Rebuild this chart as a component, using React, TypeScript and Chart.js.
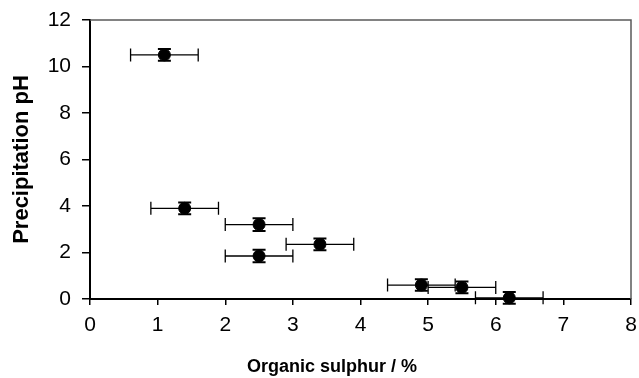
import React, { useEffect, useRef } from "react";
import { Chart, registerables } from "chart.js";

Chart.register(...registerables);

const organicSulphur = [1.1, 1.4, 2.5, 2.5, 3.4, 4.9, 5.5, 6.2];
const precipitationPH = [10.5, 3.9, 3.2, 1.85, 2.35, 0.6, 0.5, 0.05];
const sulphurError = [0.5, 0.5, 0.5, 0.5, 0.5, 0.5, 0.5, 0.5];
const phError = [0.25, 0.25, 0.27, 0.27, 0.25, 0.25, 0.25, 0.25];

const xTitle = "Organic sulphur / %";
const yTitle = "Precipitation pH";

const FONT = "'Liberation Sans', Arial, sans-serif";

const errorBarPlugin = {
  id: "errorBars",
  beforeDatasetsDraw(chart: any) {
    const ctx = chart.ctx;
    const xs = chart.scales.x;
    const ys = chart.scales.y;
    ctx.save();
    ctx.strokeStyle = "#000";
    const cap = 6.5;
    organicSulphur.forEach((xv, i) => {
      const yv = precipitationPH[i];
      const px = xs.getPixelForValue(xv);
      const py = ys.getPixelForValue(yv);
      const x0 = xs.getPixelForValue(xv - sulphurError[i]);
      const x1 = xs.getPixelForValue(xv + sulphurError[i]);
      const y0 = ys.getPixelForValue(yv - phError[i]);
      const y1 = ys.getPixelForValue(yv + phError[i]);
      ctx.lineWidth = 1.3;
      ctx.beginPath();
      ctx.moveTo(x0, py);
      ctx.lineTo(x1, py);
      ctx.moveTo(x0, py - cap);
      ctx.lineTo(x0, py + cap);
      ctx.moveTo(x1, py - cap);
      ctx.lineTo(x1, py + cap);
      ctx.stroke();
      ctx.lineWidth = 2;
      ctx.beginPath();
      ctx.moveTo(px, y0);
      ctx.lineTo(px, y1);
      ctx.moveTo(px - cap, y0);
      ctx.lineTo(px + cap, y0);
      ctx.moveTo(px - cap, y1);
      ctx.lineTo(px + cap, y1);
      ctx.stroke();
    });
    ctx.restore();
  },
};

const framePlugin = {
  id: "frame",
  beforeDatasetsDraw(chart: any) {
    const { ctx, chartArea } = chart;
    ctx.save();
    ctx.strokeStyle = "#5a5a5a";
    ctx.lineWidth = 1.5;
    ctx.beginPath();
    ctx.moveTo(chartArea.left, chartArea.top);
    ctx.lineTo(chartArea.right, chartArea.top);
    ctx.lineTo(chartArea.right, chartArea.bottom);
    ctx.stroke();
    ctx.restore();
  },
};

const xTitlePlugin = {
  id: "xTitle",
  afterDraw(chart: any) {
    const ctx = chart.ctx;
    ctx.save();
    ctx.fillStyle = "#000";
    ctx.font = `bold 18px ${FONT}`;
    ctx.textAlign = "center";
    ctx.textBaseline = "middle";
    ctx.fillText(xTitle, 332, 367);
    ctx.restore();
  },
};

export default function App() {
  const ref = useRef<HTMLCanvasElement | null>(null);
  useEffect(() => {
    if (!ref.current) return;
    const tickFont = { family: FONT, size: 21 };
    const yTitleFont = { family: FONT, size: 22, weight: "bold" as const };
    const chart = new Chart(ref.current, {
      type: "scatter",
      data: {
        datasets: [
          {
            label: "pH",
            data: organicSulphur.map((x, i) => ({ x, y: precipitationPH[i] })),
            backgroundColor: "#000",
            borderColor: "#000",
            pointRadius: 6,
            pointHoverRadius: 6,
            clip: false as any,
          },
        ],
      },
      options: {
        animation: false,
        responsive: false,
        maintainAspectRatio: false,
        layout: { padding: { top: 20, right: 8, left: 0, bottom: 0 } },
        plugins: { legend: { display: false }, tooltip: { enabled: false } },
        scales: {
          x: {
            type: "linear",
            min: 0,
            max: 8,
            ticks: { stepSize: 1, font: tickFont, color: "#000", padding: 8, maxRotation: 0 },
            grid: { drawOnChartArea: false, tickLength: 6, color: "#000", lineWidth: 1.5 },
            border: { color: "#000", width: 2 },
            afterFit(scale: any) {
              scale.height = 79;
              scale.paddingLeft = 0;
              scale.paddingRight = 0;
            },
          },
          y: {
            type: "linear",
            min: 0,
            max: 12,
            ticks: { stepSize: 2, font: tickFont, color: "#000", padding: 11 },
            grid: { drawOnChartArea: false, tickLength: 8, color: "#000", lineWidth: 1.5 },
            border: { color: "#000", width: 2 },
            title: { display: true, text: yTitle, font: yTitleFont, color: "#000", padding: { top: 9, bottom: 4 } },
            afterFit(scale: any) {
              scale.width = 90;
              scale.paddingTop = 0;
              scale.paddingBottom = 0;
            },
          },
        },
      },
      plugins: [errorBarPlugin, framePlugin, xTitlePlugin],
    });
    return () => chart.destroy();
  }, []);
  return (
    <div style={{ position: "fixed", left: 0, top: 0, width: 639, height: 378, background: "#fff" }}>
      <canvas ref={ref} width={639} height={378} style={{ width: 639, height: 378 }} />
    </div>
  );
}
